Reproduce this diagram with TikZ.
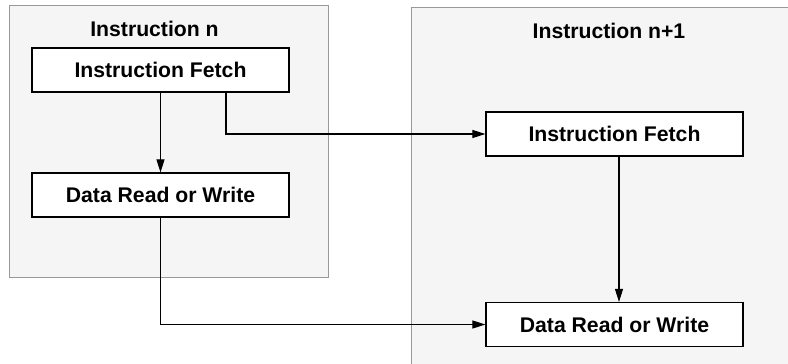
\documentclass[tikz,border=0pt]{standalone}
\usepackage{fontspec}
\setmainfont{Liberation Sans}
\usetikzlibrary{arrows.meta}
\definecolor{panelfill}{HTML}{F5F5F5}
\definecolor{panelline}{HTML}{999999}
\begin{document}
\begin{tikzpicture}[x=0.5pt,y=-0.5pt,
  panel/.style={draw=panelline,fill=panelfill,line width=0.5pt},
  stagebox/.style={draw=black,fill=white,line width=0.6pt,minimum width=128.5pt,minimum height=22pt,inner sep=0pt,font=\fontsize{10.6pt}{12pt}\selectfont\bfseries},
  titletext/.style={font=\fontsize{10.6pt}{12pt}\selectfont\bfseries,inner sep=0pt},
  conn/.style={draw=black,line width=0.55pt,-{Triangle[length=6.5pt,width=4pt]}},
  plain/.style={draw=black,line width=0.55pt}]
\useasboundingbox (0,0) rectangle (788,364);
\clip (0,0) rectangle (788,364);
\fill[white] (0,0) rectangle (788,364);
% panels
\draw[panel] (9,5) rectangle (328,277);
\draw[panel] (411,7) rectangle (800,380);
\node[titletext] (t1) at (154.5,29) {Instruction n};
\node[titletext] (t2) at (609,31) {Instruction n+1};
% boxes
\node[stagebox] (f1) at (160.5,70) {Instruction Fetch};
\node[stagebox] (d1) at (160.5,195) {Data Read or Write};
\node[stagebox] (f2) at (614.5,134) {Instruction Fetch};
\node[stagebox] (d2) at (614.5,324.5) {Data Read or Write};
% connectors
\draw[conn] (f1.south) -- (d1.north);
\draw[conn] (f2.south) ++(4.5,0) coordinate (fs) -- (fs |- d2.north);
\coordinate (a) at (226,92);
\draw[conn] (a) |- (f2.west);
\draw[conn] (d1.south) |- (d2.west);
\end{tikzpicture}
\end{document}
